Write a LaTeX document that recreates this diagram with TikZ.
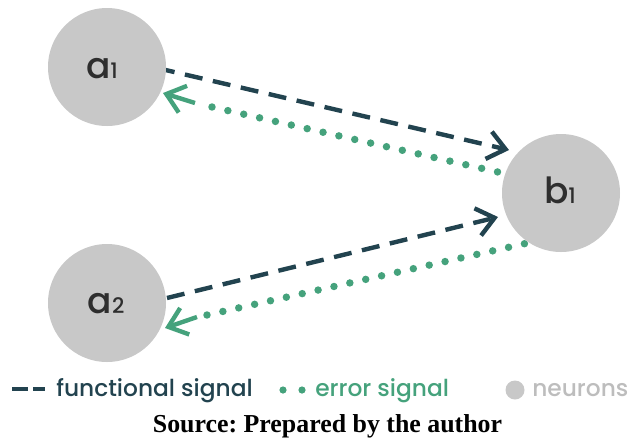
\documentclass[tikz,border=0pt]{standalone}
\usepackage{fontspec}
\setmainfont{Poppins}[UprightFont=* Medium]
\newfontfamily\captionfont{Liberation Serif}
\usetikzlibrary{arrows.meta,calc}
\pgfdeclarelayer{bg}
\pgfsetlayers{bg,main}

\definecolor{funccol}{HTML}{22434F}
\definecolor{errcol}{HTML}{45A27C}
\definecolor{neurcol}{HTML}{C8C8C8}
\definecolor{labcol}{HTML}{2E2E2E}
\definecolor{neurtext}{HTML}{BDBDBD}

\tikzset{
  neuron/.style={circle, fill=neurcol, draw=none, minimum size=88.5pt, inner sep=0pt},
  barb/.style={-{Straight Barb[length=13pt,width=21pt,line width=3.3pt]}},
  funcsig/.style={draw=funccol, line width=3.3pt, dash pattern=on 13.5pt off 8pt, barb},
  errdots/.style={draw=errcol, line width=5.6pt, line cap=round, dash pattern=on 0pt off 12.2pt},
  errhead/.style={draw=errcol, line width=3.3pt, barb},
  neurlabel/.style={anchor=base, text=labcol, inner sep=0pt},
  legendtext/.style={anchor=base west, inner sep=0pt, font=\fontsize{17.5}{20}\selectfont}
}

\begin{document}
\begin{tikzpicture}[x=0.75pt, y=-0.75pt]
\useasboundingbox (0,0) rectangle (629,437);

% neurons
\node[neuron] (a1) at (107,67) {};
\node[neuron] (a2) at (107,303) {};
\node[neuron] (b1) at (561,193) {};

\node[neurlabel] (la1) at ($(a1)+(-5,11)$) {\fontsize{27}{27}\selectfont a\fontsize{16}{16}\selectfont 1};
\node[neurlabel] (lb1) at ($(b1)+(-1,10)$) {\fontsize{27}{27}\selectfont b\fontsize{16}{16}\selectfont 1};
\node[neurlabel] (la2) at ($(a2)+(-1,10)$) {\fontsize{27}{27}\selectfont a\fontsize{16}{16}\selectfont 2};

% end points of the signals
\coordinate (f1s) at ($(a1)+(50,1)$);
\coordinate (f1t) at ($(b1)+(-52,-43)$);
\coordinate (f2s) at ($(a2)+(60,-5)$);
\coordinate (f2t) at ($(b1)+(-63,24)$);

\coordinate (e1d) at ($(a1)+(105,40)$);
\coordinate (e1e) at ($(b1)+(-50,-18)$);
\coordinate (e1h) at ($(a1)+(88,36)$);
\coordinate (e1t) at ($(a1)+(56,26)$);

\coordinate (e2d) at ($(a2)+(100,12)$);
\coordinate (e2e) at ($(b1)+(-20,47)$);
\coordinate (e2h) at ($(a2)+(90,14)$);
\coordinate (e2t) at ($(a2)+(58,25)$);

\begin{pgfonlayer}{bg}
  \draw[funcsig] (f1s) -- (f1t);
  \draw[funcsig] (f2s) -- (f2t);
  \draw[errdots] (e1d) -- (e1e);
  \draw[errhead] (e1h) -- (e1t);
  \draw[errdots] (e2d) -- (e2e);
  \draw[errhead] (e2h) -- (e2t);
\end{pgfonlayer}

% legend
\draw[funccol, line width=3.3pt] (12,389) -- (28,389);
\draw[funccol, line width=3.3pt] (33,389) -- (45,389);
\node[legendtext, text=funccol] (lf) at (56,396) {functional signal};
\fill[errcol] (283,390) circle (3.6);
\fill[errcol] (302,390) circle (3.6);
\node[legendtext, text=errcol] (le) at (315,396) {error signal};
\fill[neurcol] (515,390) circle (9.5);
\node[legendtext, text=neurtext] (ln) at (532,396) {neurons};

% caption
\node[anchor=base, inner sep=0pt, font=\captionfont\bfseries\fontsize{19.4}{22}\selectfont\frenchspacing] (src) at (327.5,432) {Source: Prepared by the author};
\end{tikzpicture}
\end{document}
